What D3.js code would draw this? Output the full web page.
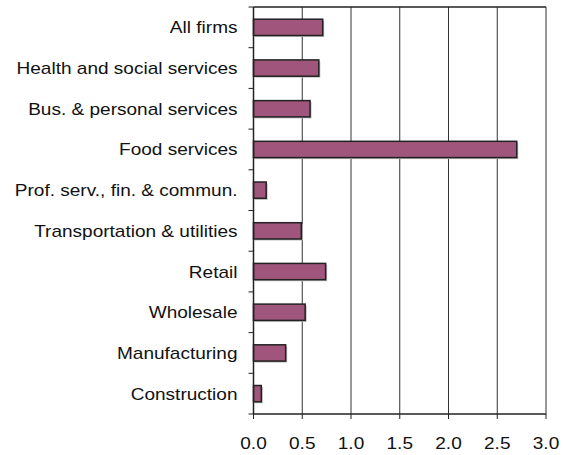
<!DOCTYPE html>
<html>
<head>
<meta charset="utf-8">
<script src="https://cdn.jsdelivr.net/npm/d3@7"></script>
<style>
  body { margin: 0; background: #fff; }
  text { font-family: "Liberation Sans", Arial, sans-serif; fill: #111; }
</style>
</head>
<body>
<div id="chart"></div>
<script>
const WIDTH = 563;
const HEIGHT = 455;
const MARGIN = { top: 7, right: 17, bottom: 41, left: 253.5 };
const BAR_COLOR = "#a0557c";
const FONT_SIZE = 17;
const TEXT_STRETCH = 1.12; // reference glyphs are a bit wider than Liberation Sans

// categories top to bottom
const categories = [
  "All firms",
  "Health and social services",
  "Bus. & personal services",
  "Food services",
  "Prof. serv., fin. & commun.",
  "Transportation & utilities",
  "Retail",
  "Wholesale",
  "Manufacturing",
  "Construction"
];
const values = [0.71, 0.67, 0.58, 2.70, 0.13, 0.49, 0.74, 0.53, 0.33, 0.08];
const xTicks = [0, 0.5, 1.0, 1.5, 2.0, 2.5, 3.0];

const innerW = WIDTH - MARGIN.left - MARGIN.right;
const innerH = HEIGHT - MARGIN.top - MARGIN.bottom;

const svg = d3.select("#chart")
  .append("svg")
  .attr("width", WIDTH)
  .attr("height", HEIGHT);

const g = svg.append("g")
  .attr("transform", `translate(${MARGIN.left},${MARGIN.top})`);

const x = d3.scaleLinear().domain([0, 3]).range([0, innerW]);
const y = d3.scaleBand().domain(categories).range([0, innerH]).paddingInner(0.6).paddingOuter(0.3);

// gridlines
g.append("g")
  .selectAll("line")
  .data(xTicks.slice(1))
  .enter()
  .append("line")
  .attr("x1", d => x(d))
  .attr("x2", d => x(d))
  .attr("y1", 0)
  .attr("y2", innerH)
  .attr("stroke", "#333")
  .attr("stroke-width", 1);

// top border
g.append("line")
  .attr("x1", 0).attr("x2", innerW)
  .attr("y1", 0).attr("y2", 0)
  .attr("stroke", "#222").attr("stroke-width", 1.5);

// bars, with a light shadow
const bars = g.append("g");
bars.selectAll("rect.shadow")
  .data(categories)
  .enter()
  .append("rect")
  .attr("class", "shadow")
  .attr("x", 1.5)
  .attr("y", d => y(d) + 1.5)
  .attr("width", (d, i) => x(values[i]))
  .attr("height", y.bandwidth())
  .attr("fill", "#bbb");

bars.selectAll("rect.bar")
  .data(categories)
  .enter()
  .append("rect")
  .attr("class", "bar")
  .attr("x", 0)
  .attr("y", d => y(d))
  .attr("width", (d, i) => x(values[i]))
  .attr("height", y.bandwidth())
  .attr("fill", BAR_COLOR)
  .attr("stroke", "#222")
  .attr("stroke-width", 1.5);

// y axis: ticks between categories
const step = innerH / categories.length;
const yAxis = g.append("g");
yAxis.append("line")
  .attr("x1", 0).attr("x2", 0)
  .attr("y1", 0).attr("y2", innerH)
  .attr("stroke", "#222").attr("stroke-width", 1.5);
yAxis.selectAll("line.tick")
  .data(d3.range(categories.length + 1))
  .enter()
  .append("line")
  .attr("class", "tick")
  .attr("x1", -5).attr("x2", 0)
  .attr("y1", d => d * step).attr("y2", d => d * step)
  .attr("stroke", "#222").attr("stroke-width", 1);
yAxis.selectAll("text")
  .data(categories)
  .enter()
  .append("text")
  .attr("transform", d => `translate(-16,${y(d) + y.bandwidth() / 2}) scale(${TEXT_STRETCH},1)`)
  .attr("dy", "0.35em")
  .attr("text-anchor", "end")
  .attr("font-size", FONT_SIZE)
  .text(d => d);

// x axis
const xAxis = g.append("g").attr("transform", `translate(0,${innerH})`);
xAxis.append("line")
  .attr("x1", 0).attr("x2", innerW)
  .attr("stroke", "#222").attr("stroke-width", 1.5);
xAxis.selectAll("line.tick")
  .data(xTicks)
  .enter()
  .append("line")
  .attr("class", "tick")
  .attr("x1", d => x(d)).attr("x2", d => x(d))
  .attr("y1", 0).attr("y2", 5)
  .attr("stroke", "#222").attr("stroke-width", 1);
xAxis.selectAll("text")
  .data(xTicks)
  .enter()
  .append("text")
  .attr("transform", d => `translate(${x(d)},35) scale(${TEXT_STRETCH},1)`)
  .attr("text-anchor", "middle")
  .attr("font-size", FONT_SIZE)
  .text(d => d3.format(".1f")(d));
</script>
</body>
</html>
